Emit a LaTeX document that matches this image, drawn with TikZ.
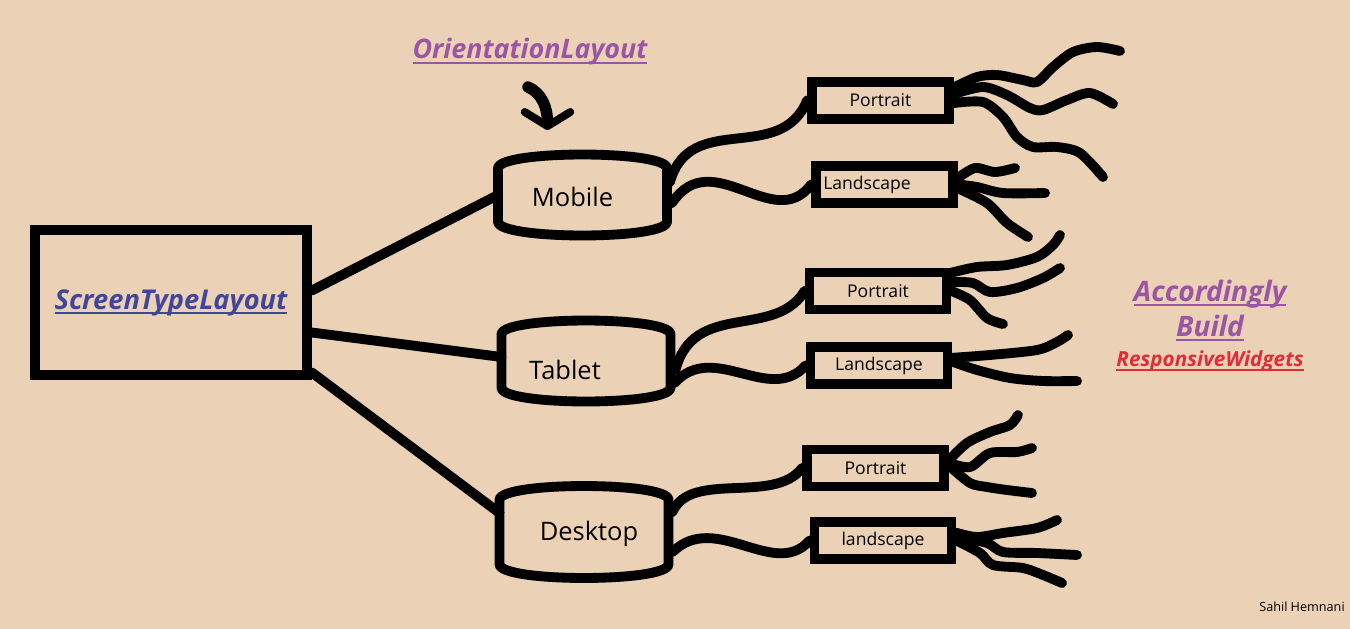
\documentclass[tikz,border=0pt]{standalone}
\usepackage{fontspec}
\setmainfont{Open Sans}
\usetikzlibrary{arrows.meta,positioning}

\definecolor{paper}{RGB}{235,209,182}
\definecolor{titleblue}{RGB}{65,70,155}
\definecolor{titlepurple}{RGB}{155,85,165}
\definecolor{titlered}{RGB}{225,45,55}

\newcommand{\undertext}[1]{\setbox0\hbox{#1}\leavevmode\rlap{\rule[-2.6pt]{\wd0}{1.1pt}}\box0}

\begin{document}
\begin{tikzpicture}[
    x=0.02cm, y=-0.02cm,
    wire/.style={line width=5.6pt, line cap=round, line join=round},
    screenbox/.style={draw, line width=5.6pt, minimum width=5.44cm, minimum height=2.9cm},
    device/.style={minimum width=3.38cm, minimum height=1.68cm, outer sep=0pt},
    devtext/.style={font=\fontsize{14.5}{17}\selectfont},
    orient/.style={draw, line width=5.6pt, minimum width=2.74cm, minimum height=0.74cm, inner sep=0pt, font=\fontsize{10}{12}\selectfont},
    heading/.style={font=\fontsize{15.5}{18}\selectfont\bfseries\itshape}
]
\fill[paper] (0,0) rectangle (1350,629);
\useasboundingbox (0,0) rectangle (1350,629);

% screen types
\node[screenbox, heading, text=titleblue] (stl) at (171,302.5) {\undertext{ScreenTypeLayout}};
\node[device, label={[devtext, shift={(-10,2)}]center:Mobile}] (mob) at (582.5,195) {};
\node[device, label={[devtext, shift={(-21,9)}]center:Tablet}] (tab) at (586,361) {};
\node[device, minimum height=1.9cm, label={[devtext, shift={(5,2)}]center:Desktop}] (desk) at (584,532) {};

\foreach \d in {mob,tab,desk}
  \draw[wire] ([shift={(0,15)}]\d.north west) .. controls ([shift={(2,-3)}]\d.north west) and ([shift={(-2,-3)}]\d.north east) .. ([shift={(0,15)}]\d.north east)
    -- ([shift={(0,-15)}]\d.south east) .. controls ([shift={(-2,3)}]\d.south east) and ([shift={(2,3)}]\d.south west) .. ([shift={(0,-15)}]\d.south west) -- cycle;

% orientations
\node[orient] (mp) at (880.5,100.5) {Portrait};
\node[orient, text width=2.45cm, align=left] (ml) at (884.5,184.5) {Landscape};
\node[orient] (tp) at (878,291) {Portrait};
\node[orient] (tl) at (879,365.5) {Landscape};
\node[orient] (dp) at (875.5,468) {Portrait};
\node[orient] (dl) at (883,540.5) {landscape};

% titles
\node[font=\fontsize{15.3}{18}\selectfont\bfseries\itshape, text=titlepurple] (ol) at (530,52) {\undertext{OrientationLayout}};
\node[font=\fontsize{16}{19}\selectfont\bfseries\itshape, text=titlepurple] (acc) at (1210,294) {\undertext{Accordingly}};
\node[font=\fontsize{16}{19}\selectfont\bfseries\itshape, text=titlepurple] (bld) at (1210,328) {\undertext{Build}};
\node[font=\fontsize{11.8}{14}\selectfont\bfseries\itshape, text=titlered] (rw) at (1210,361) {\undertext{ResponsiveWidgets}};
\node[font=\fontsize{7.2}{9}\selectfont] (author) at (1302,607) {Sahil Hemnani};

\draw[wire, line width=6.5pt, -{Straight Barb[length=8pt, width=26pt, line width=4.5pt, round]}] ([shift={(-2,35)}]ol.center) .. controls +(14,6) and +(0,-22) .. ([shift={(-35,-23)}]mob.north);

% screen type -> device
\draw[wire] ([shift={(0,-12)}]stl.east) -- (mob.west);
\draw[wire] ([shift={(0,30)}]stl.east) -- ([shift={(0,-4)}]tab.west);
\draw[wire] ([shift={(0,70)}]stl.east) -- ([shift={(0,-19)}]desk.west);

% device -> orientation
\draw[wire] ([shift={(3,-13)}]mob.east) .. controls +(20,-72) and +(-27,65) .. (mp.west);
\draw[wire] ([shift={(5,8)}]mob.east) .. controls +(40,-60) and +(-37,50) .. (ml.west);
\draw[wire] ([shift={(5,9)}]tab.east) .. controls +(18,-70) and +(-30,49) .. (tp.west);
\draw[wire] ([shift={(4,22)}]tab.east) .. controls +(39,-43) and +(-36,40) .. (tl.west);
\draw[wire] ([shift={(4,-20)}]desk.east) .. controls +(18,-42) and +(-28,37) .. (dp.west);
\draw[wire] ([shift={(4,20)}]desk.east) .. controls +(43,-42) and +(-35,40) .. (dl.west);

% widgets
\draw[wire] plot[smooth] coordinates {(mp.10) (977,77) (997,75) (1023,80) (1037,82) (1053,67) (1073,52) (1097,47) (1120,51)};
\draw[wire] plot[smooth] coordinates {(mp.5) (983,87) (1007,95) (1030,108) (1043,110) (1067,100) (1090,93) (1113,104)};
\draw[wire] plot[smooth] coordinates {(mp.-2) (983,102) (1003,117) (1017,137) (1033,147) (1057,147) (1080,153) (1103,177)};
\draw[wire] plot[smooth] coordinates {(ml.5) (975,168) (995,172) (1015,168)};
\draw[wire] plot[smooth] coordinates {(ml.east) (977,187) (1003,193) (1045,193)};
\draw[wire] plot[smooth] coordinates {(ml.-3) (987,203) (1007,223) (1028,237)};
\draw[wire] plot[smooth] coordinates {(tp.14) (977,267) (1007,265) (1037,257) (1053,245) (1060,235)};
\draw[wire] plot[smooth] coordinates {(tp.7) (973,283) (990,292) (1017,288) (1043,278) (1060,268)};
\draw[wire] plot[smooth] coordinates {(tp.east) (970,300) (987,318) (1003,324)};
\draw[wire] plot[smooth] coordinates {(tl.6) (990,355) (1037,350) (1057,342) (1068,335)};
\draw[wire] plot[smooth] coordinates {(tl.3) (977,370) (1010,378) (1043,381) (1077,381)};
\draw[wire] plot[smooth] coordinates {(dp.6) (967,443) (990,432) (1010,425) (1018,415)};
\draw[wire] plot[smooth] coordinates {(dp.4) (970,467) (990,453) (1017,452) (1032,448)};
\draw[wire] plot[smooth] coordinates {(dp.2) (970,483) (987,487) (1007,490) (1032,493)};
\draw[wire] plot[smooth] coordinates {(dl.6) (977,537) (1003,533) (1037,528) (1057,520)};
\draw[wire] plot[smooth] coordinates {(dl.3) (987,543) (1003,552) (1037,553) (1077,555)};
\draw[wire] plot[smooth] coordinates {(dl.east) (980,553) (993,565) (1023,568) (1043,575) (1062,583)};
\end{tikzpicture}
\end{document}
